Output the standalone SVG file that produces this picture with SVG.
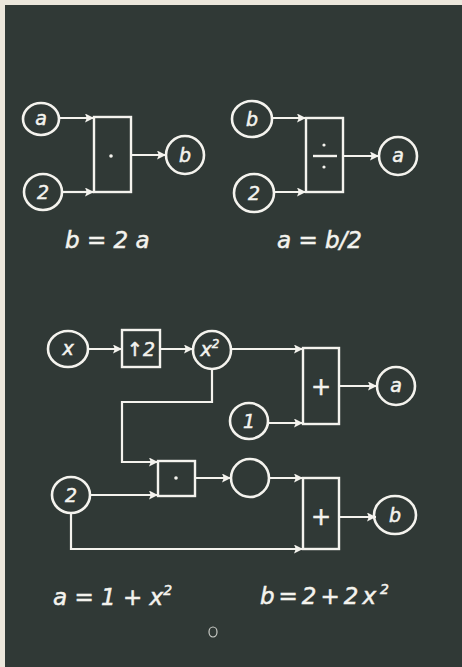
<svg xmlns="http://www.w3.org/2000/svg" width="462" height="667" viewBox="0 0 462 667">
<defs>
<style>
.bg{fill:#303936}
.paper{fill:#ebe7dc}
.n{fill:none;stroke:#f4f3ee;stroke-width:2.6}
.op{fill:none;stroke:#f4f3ee;stroke-width:2.4}
.c{fill:none;stroke:#f4f3ee;stroke-width:2.2;stroke-linejoin:miter}
.t{fill:#f4f3ee;stroke:#f4f3ee;stroke-width:0.5;font-family:"DejaVu Sans","Liberation Sans",sans-serif;font-style:italic;text-anchor:middle}
.lbl{font-size:19px}
.eq{font-size:23px;text-anchor:start}
</style>
<marker id="ah" viewBox="0 0 10 10" refX="10" refY="5" markerWidth="11" markerHeight="9" markerUnits="userSpaceOnUse" orient="auto">
<path d="M0,0 L10,5 L0,10 L2,5 z" fill="#f4f3ee"/>
</marker>
</defs>
<rect class="paper" x="0" y="0" width="462" height="667"/>
<rect class="bg" x="5" y="5" width="457" height="662"/>

<g id="connectors">
<path class="c" d="M59,118 H94" marker-end="url(#ah)"/>
<path class="c" d="M62,192 H94" marker-end="url(#ah)"/>
<path class="c" d="M131,155 H166" marker-end="url(#ah)"/>
<path class="c" d="M271,118 H306" marker-end="url(#ah)"/>
<path class="c" d="M273,192 H306" marker-end="url(#ah)"/>
<path class="c" d="M343,156 H379" marker-end="url(#ah)"/>
<path class="c" d="M88,349 H122" marker-end="url(#ah)"/>
<path class="c" d="M160,349 H193" marker-end="url(#ah)"/>
<path class="c" d="M231,349 H303" marker-end="url(#ah)"/>
<path class="c" d="M268,423 H303" marker-end="url(#ah)"/>
<path class="c" d="M339,386 H377" marker-end="url(#ah)"/>
<path class="c" d="M212,368 V402 H122 V462 H158" marker-end="url(#ah)"/>
<path class="c" d="M90,495 H158" marker-end="url(#ah)"/>
<path class="c" d="M195,478 H231" marker-end="url(#ah)"/>
<path class="c" d="M269,478 H303" marker-end="url(#ah)"/>
<path class="c" d="M71,513 V549 H303" marker-end="url(#ah)"/>
<path class="c" d="M339,517 H376" marker-end="url(#ah)"/>
</g>

<g id="n_a1"><ellipse class="n" cx="41" cy="119" rx="18" ry="16"/><text class="t lbl" x="41" y="125">a</text></g>
<g id="n_2a"><ellipse class="n" cx="43" cy="192" rx="19" ry="18"/><text class="t lbl" x="43" y="199">2</text></g>
<g id="n_mul1"><rect class="op" x="94" y="117" width="37" height="75"/><circle cx="111" cy="156" r="1.8" fill="#f4f3ee"/></g>
<g id="n_b1"><circle class="n" cx="185" cy="155" r="19"/><text class="t lbl" x="185" y="162">b</text></g>

<g id="n_b2"><ellipse class="n" cx="252" cy="119" rx="20" ry="18"/><text class="t lbl" x="252" y="126">b</text></g>
<g id="n_2b"><ellipse class="n" cx="254" cy="193" rx="20" ry="19"/><text class="t lbl" x="254" y="200">2</text></g>
<g id="n_div"><rect class="op" x="306" y="118" width="37" height="74"/><line class="op" x1="313" y1="156" x2="337" y2="156"/><circle cx="324" cy="145" r="1.6" fill="#f4f3ee"/><circle cx="324" cy="167" r="1.6" fill="#f4f3ee"/></g>
<g id="n_a2"><circle class="n" cx="398" cy="156" r="19"/><text class="t lbl" x="398" y="162">a</text></g>

<g id="n_x"><ellipse class="n" cx="68" cy="349" rx="20" ry="18"/><text class="t lbl" x="68" y="355">x</text></g>
<g id="n_pow"><rect class="op" x="122" y="330" width="38" height="37"/><text class="t lbl" x="141" y="356">↑2</text></g>
<g id="n_x2"><circle class="n" cx="212" cy="350" r="19"/><text class="t lbl" x="210" y="356">x<tspan font-size="12" dy="-8">2</tspan></text></g>
<g id="n_plus1"><rect class="op" x="303" y="348" width="36" height="76"/><text class="t" font-size="24" x="321" y="395">+</text></g>
<g id="n_a3"><circle class="n" cx="396" cy="386" r="19"/><text class="t lbl" x="396" y="392">a</text></g>
<g id="n_1"><ellipse class="n" cx="249" cy="421" rx="19" ry="18"/><text class="t lbl" x="249" y="428">1</text></g>
<g id="n_2c"><ellipse class="n" cx="71" cy="495" rx="19" ry="18"/><text class="t lbl" x="71" y="502">2</text></g>
<g id="n_mul2"><rect class="op" x="158" y="461" width="37" height="35"/><circle cx="176" cy="478" r="1.8" fill="#f4f3ee"/></g>
<g id="n_empty"><circle class="n" cx="250" cy="478" r="19"/></g>
<g id="n_plus2"><rect class="op" x="303" y="478" width="36" height="71"/><text class="t" font-size="24" x="321" y="525">+</text></g>
<g id="n_b3"><ellipse class="n" cx="395" cy="515" rx="21" ry="19"/><text class="t lbl" x="395" y="522">b</text></g>

<g id="equations">
<text class="t eq" x="65" y="248">b = 2 a</text>
<text class="t eq" x="277" y="248">a = b/2</text>
<text class="t eq" x="53" y="605">a = 1 + x<tspan font-size="14" dy="-10">2</tspan></text>
<text class="t eq" x="260" y="604" letter-spacing="4">b=2+2x<tspan font-size="14" dy="-10" letter-spacing="0">2</tspan></text>
</g>
<ellipse cx="213" cy="632" rx="4" ry="5" fill="none" stroke="#c9cbc6" stroke-width="1.2"/>
</svg>
